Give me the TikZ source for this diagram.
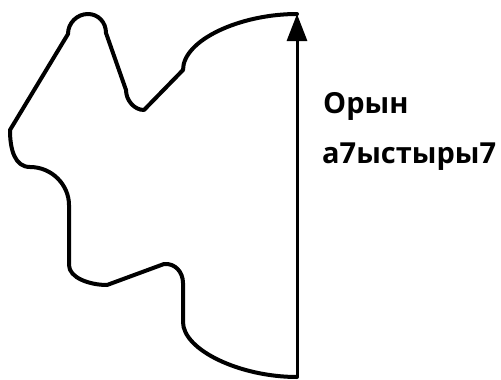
\documentclass[tikz,border=0pt]{standalone}
\usepackage{fontspec}
\setmainfont{Open Sans}
\usetikzlibrary{arrows.meta}
\begin{document}
\begin{tikzpicture}[x=1pt,y=-1pt,
  outline/.style={line width=4pt,line join=round,line cap=round},
  label/.style={anchor=base west,inner sep=0pt,font=\fontsize{29}{34}\selectfont\bfseries}]
\useasboundingbox (0,0) rectangle (501,380);
\draw[outline]
  (297,14) .. controls (240,14) and (183,40) .. (183,70)
  -- (144,110) .. controls (134,110) and (126,100) .. (126,90)
  -- (106,33) .. controls (106,22) and (98,14) .. (88,14)
  .. controls (77,14) and (68,23) .. (68,34)
  -- (10,130) .. controls (10,150) and (15,167) .. (30,167)
  .. controls (52,167) and (69,185) .. (69,205)
  -- (69,265) .. controls (69,278) and (90,285) .. (107,285)
  -- (164,264) .. controls (175,263) and (183,272) .. (183,283)
  -- (183,322) .. controls (183,350) and (240,377) .. (297,377);
\coordinate (bot) at (297,377);
\coordinate (top) at (297,14);
\draw[line width=3pt,-{Triangle[length=27pt,width=20pt]}] (bot) -- (top);
\node[label] (l1) at (323,113) {Орын};
\node[label] (l2) at (322,163) {а7ыстыры7};
\end{tikzpicture}
\end{document}
